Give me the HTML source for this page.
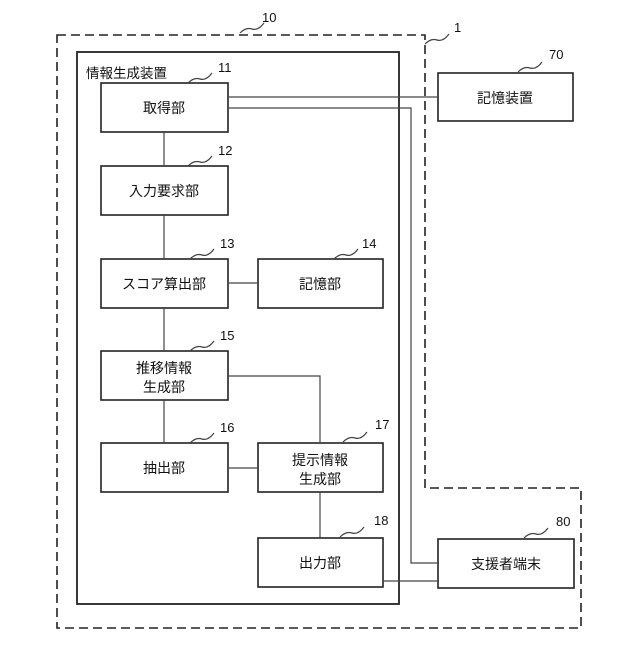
<!DOCTYPE html>
<html><head><meta charset="utf-8"><style>
body{margin:0;background:#fff}
svg text{font-family:"Liberation Sans","Noto Sans CJK JP",sans-serif;fill:#111}
</style></head><body>
<svg width="640" height="640" viewBox="0 0 640 640" xmlns="http://www.w3.org/2000/svg">
<g fill="none" stroke="#222" stroke-width="1.6">
<path d="M57 35 H425 V488 H581 V628 H57 Z" stroke-dasharray="9,5"/>
<rect x="77" y="52" width="322" height="552" stroke-width="1.8"/>
<rect x="101" y="83" width="127" height="49"/>
<rect x="101" y="166" width="127" height="49"/>
<rect x="101" y="259" width="127" height="49"/>
<rect x="258" y="259" width="125" height="49"/>
<rect x="101" y="351" width="127" height="49"/>
<rect x="101" y="443" width="127" height="49"/>
<rect x="258" y="443" width="125" height="49"/>
<rect x="258" y="538" width="125" height="49"/>
<rect x="438" y="73" width="135" height="48"/>
<rect x="438" y="539" width="136" height="49"/>
</g>
<g fill="none" stroke="#444" stroke-width="1.2">
<path d="M228 97 H438"/>
<path d="M228 108 H411 V563 H438"/>
<path d="M383 581 H438"/>
<path d="M164 132 V166 M164 215 V259 M164 308 V351 M164 400 V443"/>
<path d="M228 283 H258"/>
<path d="M228 376 H320 V443"/>
<path d="M228 468 H258"/>
<path d="M320 492 V538"/>
<path d="M240 33 q6 -6 12 -4 q6 2 12 -6"/>
<path d="M425 44 q6 -6 12 -4 q6 2 12 -6"/>
<path d="M518 72 q6 -6 12 -4 q6 2 12 -6"/>
<path d="M188 83 q6 -6 12 -4 q6 2 12 -6"/>
<path d="M188 166 q6 -6 12 -4 q6 2 12 -6"/>
<path d="M190 259 q6 -6 12 -4 q6 2 12 -6"/>
<path d="M334 259 q6 -6 12 -4 q6 2 12 -6"/>
<path d="M190 351 q6 -6 12 -4 q6 2 12 -6"/>
<path d="M190 443 q6 -6 12 -4 q6 2 12 -6"/>
<path d="M343 442 q6 -6 12 -4 q6 2 12 -6"/>
<path d="M340 537 q6 -6 12 -4 q6 2 12 -6"/>
<path d="M524 538 q6 -6 12 -4 q6 2 12 -6"/>
</g>
<g font-size="13">
<text x="262" y="22">10</text>
<text x="454" y="32">1</text>
<text x="549" y="59">70</text>
<text x="218" y="72">11</text>
<text x="218" y="155">12</text>
<text x="220" y="248">13</text>
<text x="362" y="248">14</text>
<text x="220" y="340">15</text>
<text x="220" y="432">16</text>
<text x="375" y="429">17</text>
<text x="374" y="525">18</text>
<text x="556" y="526">80</text>
</g>
<g font-size="14" text-anchor="middle">
<text x="86" y="78" text-anchor="start" font-size="13.5">情報生成装置</text>
<text x="164" y="113">取得部</text>
<text x="164" y="196">入力要求部</text>
<text x="164" y="289">スコア算出部</text>
<text x="320" y="289">記憶部</text>
<text x="164" y="373">推移情報</text>
<text x="164" y="392">生成部</text>
<text x="164" y="473">抽出部</text>
<text x="320" y="465">提示情報</text>
<text x="320" y="484">生成部</text>
<text x="320" y="568">出力部</text>
<text x="505" y="103">記憶装置</text>
<text x="506" y="569">支援者端末</text>
</g>
</svg>
</body></html>
